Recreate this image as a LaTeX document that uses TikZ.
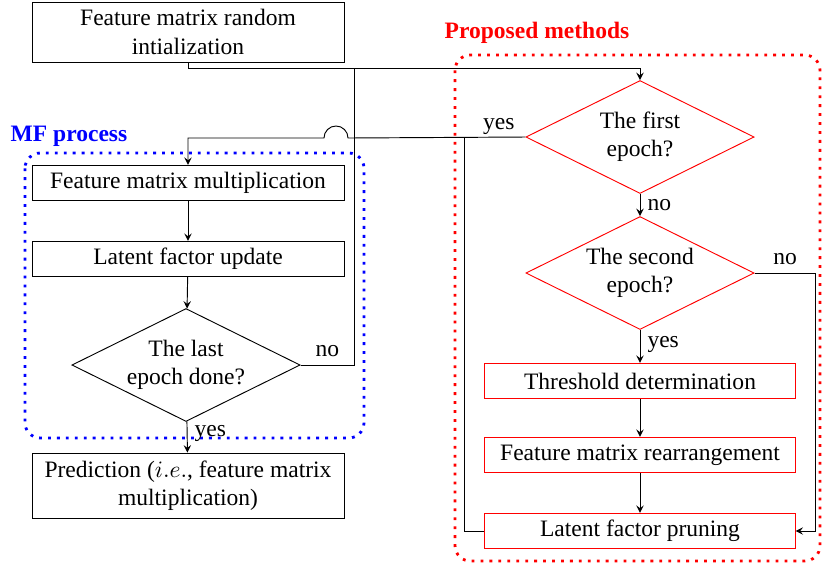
\documentclass[tikz,border=0pt]{standalone}
\usepackage{fontspec}
\setmainfont{Liberation Serif}
\usetikzlibrary{shapes.geometric}

\tikzset{
  blk/.style={draw, align=center, minimum width=132.6pt, minimum height=15pt, inner sep=2pt},
  pblk/.style={blk, draw=red, minimum width=131.8pt},
  dec/.style={diamond, draw, align=center, aspect=2, inner sep=0pt, minimum width=97pt, minimum height=48pt},
  pdec/.style={dec, draw=red},
  grp/.style={line width=1.2pt, dash pattern=on 1.2pt off 2.6pt, rounded corners=6.5pt},
}

\begin{document}
\begin{tikzpicture}[x=0.425pt, y=-0.425pt, >=stealth]
        \useasboundingbox (0,0) rectangle (823,564);
        % MF process
        \node[blk, minimum height=25.5pt] (init) at (188,32) {Feature matrix random\\intialization};
        \node[blk] (mult) at (188,183) {Feature matrix multiplication};
        \node[blk] (upd) at (188,259) {Latent factor update};
        \node[dec] (last) at (186,365) {The last\\epoch done?};
        \node[blk, minimum height=28pt] (pred) at (188,486) {Prediction ($i.e.$, feature matrix\\multiplication)};
        % proposed methods
        \node[pdec] (first) at (640,137) {The first\\epoch?};
        \node[pdec] (second) at (640,273) {The second\\epoch?};
        \node[pblk] (thr) at (640,381) {Threshold determination};
        \node[pblk] (rearr) at (640,455) {Feature matrix rearrangement};
        \node[pblk] (prune) at (640,531) {Latent factor pruning};

        \draw[grp,blue] (25,153) rectangle (364,438);
        \node[blue,font=\bfseries] (mflab) at (69,136) {MF process};
        \draw[grp,red] (455,55) rectangle (820,561);
        \node[red,font=\bfseries] (pmlab) at (537,33) {Proposed methods};

        \coordinate (merge) at (354,68);
        \coordinate (hopR) at (348,138);
        \coordinate (back) at (464,138);

        \draw[->] (init.south) -- ++(0,6) -| (first.north);
        \draw (last.east) -| node[above,pos=0.25] {no} (merge);
        \draw[->] (first.west) -- node[above,pos=0.15,inner sep=1pt] {yes} (hopR)
	arc[start angle=0,end angle=180,radius=5.1pt] -| (mult.north);
        \draw (prune.west) -| (back);
        \draw[->] (mult) -- (upd);
        \draw[->] (upd) -- (last);
        \draw[->] (last) -- node[right,pos=0.4,inner sep=3pt] {yes} (pred);
        \draw[->] (first) -- node[right,inner sep=3pt] {no} (second);
        \draw[->] (second) -- node[right,pos=0.45,inner sep=3pt] {yes} (thr);
        \draw[->] (thr) -- (rearr);
        \draw[->] (rearr) -- (prune);
        \draw[->] (second.east) -- node[above] {no} ++(61,0) |- (prune.east);
\end{tikzpicture}
\end{document}
